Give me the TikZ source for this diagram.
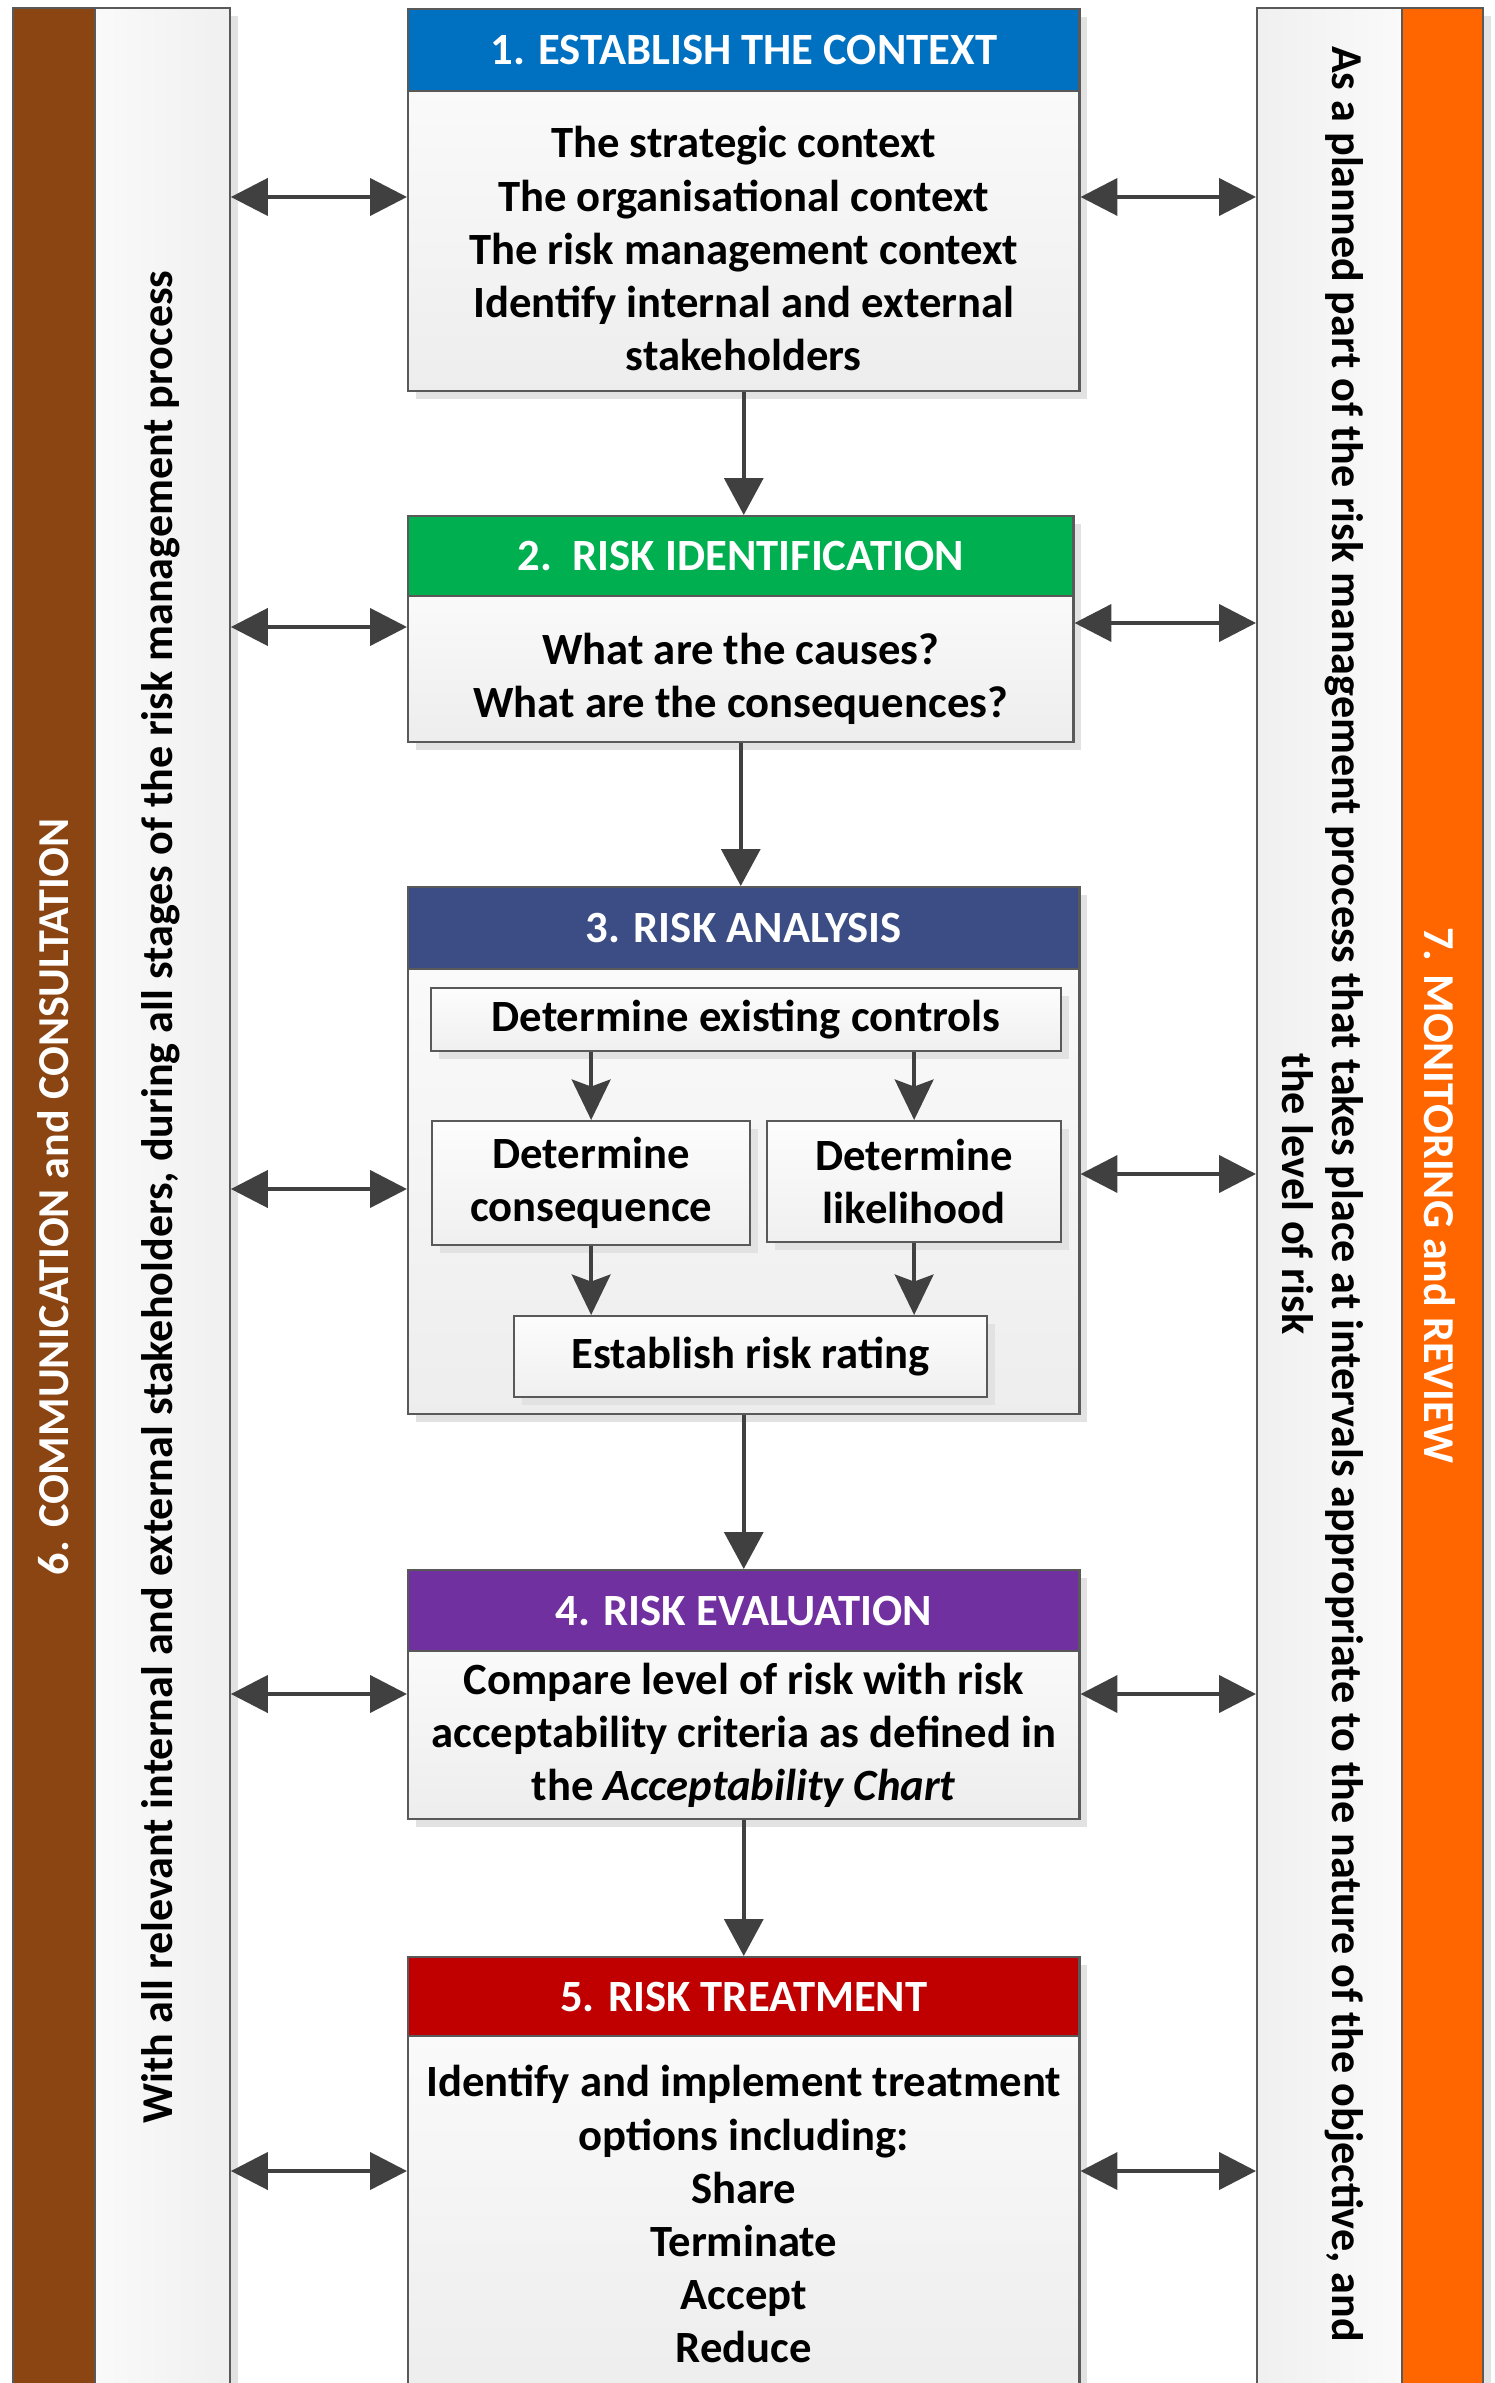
\documentclass[tikz,border=0pt]{standalone}
\usepackage{fontspec}
\setmainfont{Carlito}
\usetikzlibrary{arrows.meta,shadows}

\definecolor{brownbar}{RGB}{139,69,19}
\definecolor{orangebar}{RGB}{255,102,0}
\definecolor{headblue}{RGB}{0,112,192}
\definecolor{headgreen}{RGB}{0,176,80}
\definecolor{headnavy}{RGB}{59,77,132}
\definecolor{headpurple}{RGB}{112,48,160}
\definecolor{headred}{RGB}{192,0,0}
\definecolor{edgegray}{RGB}{89,89,89}
\definecolor{arrowgray}{RGB}{64,64,64}
\definecolor{shadowgray}{RGB}{226,226,226}

\tikzset{
    txt/.style={font=\fontsize{12.7}{15.1}\selectfont\bfseries, align=center},
    sidetxt/.style={font=\fontsize{12.55}{14.2}\selectfont\bfseries, align=center},
    shade8/.style={drop shadow={shadow xshift=.08cm, shadow yshift=-.08cm, fill=shadowgray, opacity=1}},
    bar/.style={draw=edgegray, line width=0.5pt, inner sep=0pt, anchor=north west, minimum height=24cm},
    head/.style={txt, draw=edgegray, line width=0.6pt, inner sep=0pt, anchor=north west, text=white, shade8},
    body/.style={txt, draw=edgegray, line width=0.6pt, inner sep=0pt, anchor=north west, top color=black!2, bottom color=black!7, shade8},
    sub/.style={txt, draw=edgegray, line width=0.6pt, inner sep=0pt, anchor=north west, top color=black!1, bottom color=black!6, shade8},
    twoway/.style={{Triangle[length=10.5pt,width=10.5pt]}-{Triangle[length=10.5pt,width=10.5pt]}, draw=arrowgray, line width=1.2pt},
    oneway/.style={-{Triangle[length=10.5pt,width=11pt]}, draw=arrowgray, line width=1.2pt},
    inarrow/.style={-{Stealth[length=11.5pt,width=11pt,inset=2pt]}, draw=arrowgray, line width=1.2pt}
}

\begin{document}
\begin{tikzpicture}[x=0.01cm, y=-0.01cm]
    \useasboundingbox (0,0) rectangle (1495,2383);
    \clip (0,0) rectangle (1495,2383);

    % side bars
    \node[bar, fill=brownbar, minimum width=.82cm] (commbar) at (12,7) {};
    \node[bar, shade8, left color=black!2, right color=black!6, minimum width=1.35cm] (leftpanel) at (94,7) {};
    \node[bar, shade8, left color=black!6, right color=black!2, minimum width=1.45cm] (rightpanel) at (1256,7) {};
    \node[bar, shade8, fill=orangebar, minimum width=.81cm] (monbar) at (1401,7) {};

    \node[sidetxt, text=white, rotate=90] (commtext) at (53,1197) {6. COMMUNICATION and CONSULTATION};
    \node[sidetxt, rotate=90] (lefttext) at (161,1197) {With all relevant internal and external stakeholders, during all stages of the risk management process};
    \node[sidetxt, rotate=-90] (righttext) at (1323,1194) {As a planned part of the risk management process that takes place at intervals appropriate to the nature of the objective, and\\the level of risk};
    \node[sidetxt, text=white, rotate=-90] (montext) at (1440,1195) {7. MONITORING and REVIEW};

    % 1
    \node[head, fill=headblue, minimum width=6.71cm, minimum height=.82cm] (h1) at (407,8) {1. ESTABLISH THE CONTEXT};
    \node[body, minimum width=6.71cm, minimum height=3cm] (b1) at (407,90) {};
    \node[txt] (b1text) at ([yshift=-.075cm]b1.center) {The strategic context\\The organisational context\\The risk management context\\Identify internal and external\\stakeholders};

    % 2
    \node[head, fill=headgreen, minimum width=6.65cm, minimum height=.8cm] (h2) at (407,515) {2.\ \ RISK IDENTIFICATION};
    \node[body, minimum width=6.65cm, minimum height=1.46cm] (b2) at (407,595) {};
    \node[txt] (b2text) at ([yshift=-.1cm]b2.center) {What are the causes?\\What are the consequences?};

    % 3
    \node[head, fill=headnavy, minimum width=6.71cm, minimum height=.82cm] (h3) at (407,886) {3. RISK ANALYSIS};
    \node[body, minimum width=6.71cm, minimum height=4.45cm] (b3) at (407,968) {};
    \node[sub, minimum width=6.3cm, minimum height=.63cm] (controls) at (430,987) {Determine existing controls};
    \node[sub, minimum width=3.18cm, minimum height=1.24cm] (conseq) at (431,1120) {Determine\\consequence};
    \node[sub, minimum width=2.94cm, minimum height=1.21cm] (likely) at (766,1120) {Determine\\likelihood};
    \node[sub, minimum width=4.73cm, minimum height=.81cm] (rating) at (513,1315) {Establish risk rating};

    % 4
    \node[head, fill=headpurple, minimum width=6.71cm, minimum height=.81cm] (h4) at (407,1569) {4. RISK EVALUATION};
    \node[body, minimum width=6.71cm, minimum height=1.68cm] (b4) at (407,1650) {Compare level of risk with risk\\acceptability criteria as defined in\\the \textit{Acceptability Chart}};

    % 5
    \node[head, fill=headred, minimum width=6.71cm, minimum height=.79cm] (h5) at (407,1956) {5. RISK TREATMENT};
    \node[body, minimum width=6.71cm, minimum height=3.56cm] (b5) at (407,2035) {Identify and implement treatment\\options including:\\Share\\Terminate\\Accept\\Reduce};

    \draw[oneway] (b1.south) -- (b1.south |- h2.north);
    \draw[oneway] (b2.south) -- (b2.south |- h3.north);
    \draw[oneway] (b3.south) -- (b3.south |- h4.north);
    \draw[oneway] (b4.south) -- (b4.south |- h5.north);

    \draw[inarrow] (conseq.north |- controls.south) -- (conseq.north);
    \draw[inarrow] (likely.north |- controls.south) -- (likely.north);
    \draw[inarrow] (conseq.south) -- (conseq.south |- rating.north);
    \draw[inarrow] (likely.south) -- (likely.south |- rating.north);

    \draw[twoway] (leftpanel.east |- 0,197) -- (b1.west |- 0,197);
    \draw[twoway] (leftpanel.east |- 0,627) -- (b2.west |- 0,627);
    \draw[twoway] (leftpanel.east |- 0,1189) -- (b3.west |- 0,1189);
    \draw[twoway] (leftpanel.east |- 0,1694) -- (b4.west |- 0,1694);
    \draw[twoway] (leftpanel.east |- 0,2171) -- (b5.west |- 0,2171);

    \draw[twoway] (b1.east |- 0,197) -- (rightpanel.west |- 0,197);
    \draw[twoway] (b2.east |- 0,623) -- (rightpanel.west |- 0,623);
    \draw[twoway] (b3.east |- 0,1174) -- (rightpanel.west |- 0,1174);
    \draw[twoway] (b4.east |- 0,1694) -- (rightpanel.west |- 0,1694);
    \draw[twoway] (b5.east |- 0,2171) -- (rightpanel.west |- 0,2171);
\end{tikzpicture}
\end{document}
